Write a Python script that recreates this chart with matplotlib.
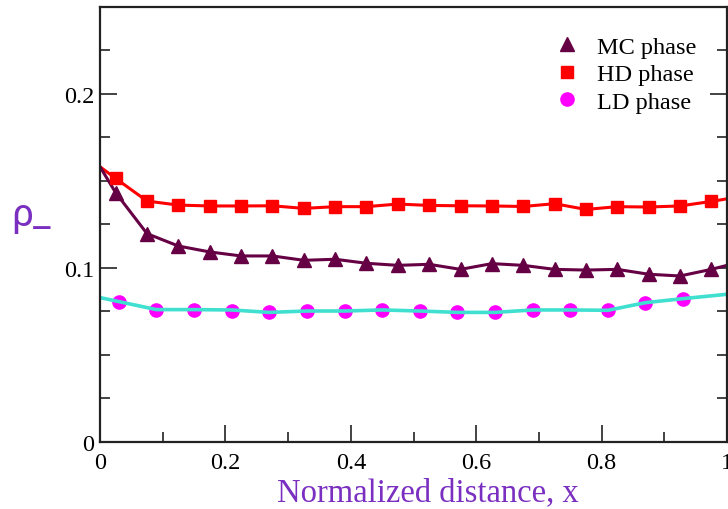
import matplotlib
matplotlib.use("Agg")
import matplotlib.pyplot as plt
from matplotlib.ticker import MultipleLocator

# ---- data ----
x_hd = [0.025, 0.075, 0.125, 0.175, 0.225, 0.275, 0.325, 0.375, 0.425, 0.475,
        0.525, 0.575, 0.625, 0.675, 0.725, 0.775, 0.825, 0.875, 0.925, 0.975]
hd_vals = [0.1513, 0.1383, 0.1360, 0.1355, 0.1355, 0.1356, 0.1341, 0.1351, 0.1351, 0.1366,
           0.1358, 0.1356, 0.1355, 0.1352, 0.1368, 0.1335, 0.1351, 0.1349, 0.1355, 0.1381]
hd_line_x = [0.0] + x_hd + [1.0]
hd_line_y = [0.158] + hd_vals + [0.1396]

x_mc = x_hd
mc_vals = [0.1431, 0.1196, 0.1125, 0.1091, 0.1068, 0.1068, 0.1043, 0.1049, 0.1026, 0.1014,
           0.1020, 0.0991, 0.1024, 0.1014, 0.0991, 0.0987, 0.0991, 0.0963, 0.0953, 0.0991]
mc_line_x = [0.0] + x_mc + [1.0]
mc_line_y = [0.158] + mc_vals + [0.1014]

x_ld = [0.03, 0.09, 0.15, 0.21, 0.27, 0.33, 0.39, 0.45,
        0.51, 0.57, 0.63, 0.69, 0.75, 0.81, 0.87, 0.93]
ld_vals = [0.0804, 0.0756, 0.0756, 0.0754, 0.0747, 0.0751, 0.0751, 0.0758,
           0.0751, 0.0745, 0.0745, 0.0758, 0.0758, 0.0756, 0.0800, 0.0823]
ld_line_x = [0.0, 0.09, 0.15, 0.21, 0.27, 0.33, 0.39, 0.45,
             0.51, 0.57, 0.63, 0.69, 0.75, 0.81, 0.87, 0.93, 1.0]
ld_line_y = [0.0829, 0.0760, 0.0760, 0.0758, 0.0744, 0.0752, 0.0752, 0.0758,
             0.0752, 0.0744, 0.0744, 0.0758, 0.0758, 0.0756, 0.0800, 0.0823, 0.0848]

labels = ["MC phase", "HD phase", "LD phase"]

# ---- style ----
c_mc = "#660044"
c_hd = "#ff0000"
c_ld_m = "#ff00ff"
c_ld_l = "#40e0d0"
purple = "#7a2fc0"
serif = ["Liberation Serif", "DejaVu Serif"]

fig = plt.figure(figsize=(7.28, 5.10), dpi=100)
ax = fig.add_axes([100/728, 1-443/510, 627/728, (443-7.5)/510])

ax.plot(hd_line_x, hd_line_y, color=c_hd, lw=2.2, zorder=2)
ax.plot(mc_line_x, mc_line_y, color=c_mc, lw=2.2, zorder=2)
ax.plot(ld_line_x, ld_line_y, color=c_ld_l, lw=2.6, zorder=2)

ax.plot(x_mc, mc_vals, ls="none", marker="^", ms=9.5, color=c_mc, label=labels[0], zorder=3)
ax.plot(x_hd, hd_vals, ls="none", marker="s", ms=8.5, color=c_hd, label=labels[1], zorder=3)
ax.plot(x_ld, ld_vals, ls="none", marker="o", ms=9.5, color=c_ld_m, label=labels[2], zorder=1)

ax.set_xlim(0, 1)
ax.set_ylim(0, 0.25)
ax.xaxis.set_major_locator(MultipleLocator(0.2))
ax.xaxis.set_minor_locator(MultipleLocator(0.1))
ax.yaxis.set_major_locator(MultipleLocator(0.1))
ax.yaxis.set_minor_locator(MultipleLocator(0.025))
ax.xaxis.set_major_formatter(plt.FuncFormatter(lambda v, p: "%g" % round(v, 3)))
ax.yaxis.set_major_formatter(plt.FuncFormatter(lambda v, p: "%g" % round(v, 3)))

ax.tick_params(which="both", direction="in", right=True, top=False, width=1.2, color="#222222")
ax.tick_params(which="major", length=12, labelsize=17.5, pad=4)
ax.tick_params(which="minor", length=7)
ax.tick_params(axis="x", which="major", pad=7)
for lab in ax.get_xticklabels() + ax.get_yticklabels():
    lab.set_fontfamily(serif)
for s in ax.spines.values():
    s.set_linewidth(1.6)
    s.set_color("#222222")

ax.set_xlabel("Normalized distance, x", family=serif, fontsize=23.5, color=purple)
ax.xaxis.set_label_coords((428-100)/627, -(493-443)/435.5)
ax.xaxis.label.set_va("center")
fig.text(11/728, 1-216/510, "ρ_", fontsize=28, color=purple, family=["Roboto", "DejaVu Sans"],
         ha="left", va="center")

leg = ax.legend(loc="upper left", bbox_to_anchor=(531/728, 1-15/510),
                bbox_transform=fig.transFigure, frameon=False,
                prop={"family": serif, "size": 17.5},
                handletextpad=0.6, labelspacing=0.22, borderpad=0.4, handlelength=1.2)

fig.savefig("out.png", dpi=100)
